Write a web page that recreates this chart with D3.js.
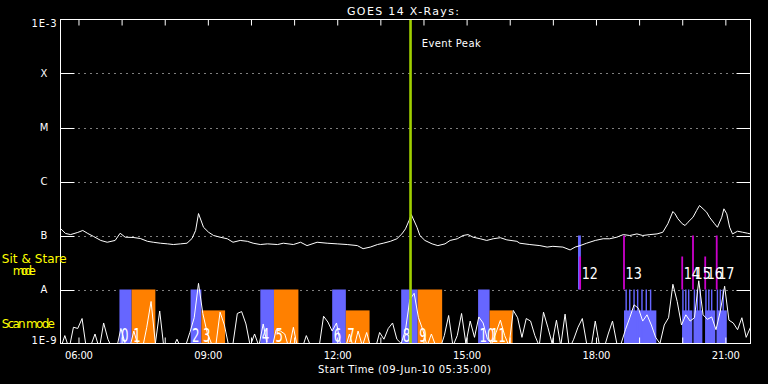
<!DOCTYPE html>
<html>
<head>
<meta charset="utf-8">
<script src="https://cdn.jsdelivr.net/npm/d3@7"></script>
<style>
body { margin: 0; background: #000; }
svg { display: block; }
text { font-family: "DejaVu Sans", sans-serif; fill: #fff; }
</style>
</head>
<body>
<script>
// y-axis levels (GOES classes)
const levelLabels = ['1E-3', 'X', 'M', 'C', 'B', 'A', '1E-9'];
const levelValues = [1e-3, 1e-4, 1e-5, 1e-6, 1e-7, 1e-8, 1e-9];

// GOES 1-8 A channel, flux in 1e-8 W/m2
const longTimes = ['05:35','05:42','05:49','05:59','06:06','06:13','06:21','06:31','06:40','06:51',
  '06:58','07:05','07:16','07:26','07:36','07:44','07:54','08:04','08:12','08:22',
  '08:31','08:38','08:43','08:47','08:54','09:01','09:08','09:17','09:27','09:35',
  '09:45','09:55','10:03','10:13','10:23','10:37','10:45','10:59','11:09','11:18',
  '11:32','11:46','12:00','12:14','12:28','12:36','12:46','12:56','13:04','13:14',
  '13:23','13:30','13:35','13:40','13:43','13:51','13:55','14:02','14:12','14:20',
  '14:30','14:37','14:47','14:55','15:02','15:09','15:19','15:28','15:37','15:47',
  '15:56','16:10','16:14','16:28','16:42','16:52','17:00','17:14','17:24','17:31',
  '17:38','17:47','17:59','18:10','18:19','18:29','18:38','18:47','18:57','19:05',
  '19:15','19:25','19:33','19:40','19:47','19:50','19:54','20:00','20:04','20:08',
  '20:15','20:20','20:24','20:29','20:34','20:38','20:45','20:49','20:55','20:58',
  '21:02','21:06','21:10','21:17','21:24','21:31','21:35'];
const longFlux = [13.5,10.9,10.4,11.4,12.4,10.9,9.6,8.1,7.5,8.1,
  11.0,9.3,9.2,8.8,7.8,7.5,7.2,7.0,6.8,7.0,
  7.2,8.8,12.4,25.5,14.2,11.5,10.0,9.3,8.7,7.5,
  8.1,7.8,7.2,6.8,7.0,6.8,7.2,6.8,7.5,6.5,
  7.5,7.2,7.0,6.8,6.5,5.7,6.1,6.8,7.2,7.8,
  8.7,10.7,13.3,19.0,24.5,14.2,10.0,8.1,7.0,6.5,
  7.0,8.1,8.7,10.0,10.4,9.3,8.7,8.1,8.7,9.1,
  8.3,7.8,7.2,6.8,6.5,6.1,6.3,6.1,5.4,6.1,
  6.5,7.2,8.1,8.7,8.7,9.3,10.4,10.0,10.7,10.0,
  10.4,10.7,11.5,16.5,27.8,25.2,20.4,16.5,15.3,17.6,
  21.8,29.0,35.9,31.2,27.0,21.8,16.5,14.2,21.8,31.2,
  25.2,14.2,10.7,12.0,11.5,11.0,10.7];

// GOES 0.5-4 A channel, one sample every 6 min from 05:35, flux in 1e-9 W/m2
const shortStart = '05:35';
const shortStep = 6;
const shortFlux = [0.8,1.4,0.8,2.0,1.9,2.9,0.8,0.9,1.5,0.8,
  2.4,1.2,0.8,0.8,1.9,1.0,0.8,1.7,0.9,0.8,
  2.0,6.0,1.0,4.0,0.8,0.8,0.8,1.2,0.8,0.9,
  1.6,3.0,13,3.6,1.6,1.0,0.9,3.8,2.2,0.9,
  1.0,3.6,3.9,2.3,0.9,1.5,0.9,2.3,0.9,0.8,
  1.8,1.7,1.5,0.8,2.0,0.8,0.8,1.4,0.9,0.8,
  0.9,3.2,2.5,1.7,2.4,0.9,0.8,1.5,0.8,1.7,
  0.9,1.6,0.8,0.8,1.6,1.2,1.9,2.4,1.2,1.0,
  1.8,6.5,8.5,3.0,1.8,0.9,1.5,0.9,0.8,1.4,
  3.3,0.9,1.4,3.6,1.0,2.6,1.3,3.1,2.4,1.2,
  1.0,1.6,2.7,1.4,0.9,4.1,3.0,1.3,2.9,2.6,
  1.4,0.9,3.8,2.0,1.0,2.7,0.9,3.5,0.8,1.2,
  2.0,2.9,1.0,0.8,2.6,0.9,0.8,1.5,2.6,1.0,
  1.0,1.8,3.0,5.2,4.5,2.6,3.4,2.2,1.3,1.0,
  2.2,3.0,12.5,6.0,2.2,3.4,2.6,3.0,14.5,3.4,
  2.8,3.1,1.8,4.0,11.5,2.7,2.4,1.8,3.0,1.3,
  2.0];

// scan mode observations 0-11 (top in 1e-9 W/m2)
const scanLabels = ['0','1','2','3','4','5','6','7','8','9','10','11'];
const scanStart = ['06:57','07:14','08:36','08:51','10:13','10:32','11:53','12:12','13:29','13:52','15:16','15:32'];
const scanEnd   = ['07:14','07:47','08:51','09:24','10:32','11:06','12:12','12:45','13:52','14:26','15:32','16:04'];
const scanKind  = ['b','o','b','o','b','o','b','o','b','o','b','o'];
const scanTop   = [10, 10, 10, 4.1, 10, 10, 10, 4.1, 10, 10, 10, 4.1];

// sit & stare observations 12-17 (top in 1e-8 W/m2)
const stareLabels = ['12','13','14','15','16','17'];
const stareTimes  = ['17:38','18:39','20:00','20:15','20:32','20:48'];
const stareTop    = [4.1, 10, 4.1, 10, 4.1, 10];

// raster blocks belonging to the sit & stare runs
const blockStart = ['17:35','18:39','20:00','20:16','20:32','20:48'];
const blockEnd   = ['17:39','19:24','20:14','20:28','20:46','21:02'];
const blockLow   = [10, 1, 1, 1, 1, 1];      // 1e-9 W/m2
const blockTop   = [100, 4.1, 4.1, 4.1, 4.1, 4.1];
const stripeStart = ['18:41','18:46','18:52','18:57','19:03','19:09','19:15',
  '20:00','20:04','20:08','20:16','20:20','20:24','20:32','20:36','20:40','20:48','20:52','20:56'];
const stripeEnd   = ['18:43','18:48','18:54','18:59','19:05','19:11','19:17',
  '20:02','20:06','20:10','20:18','20:22','20:26','20:34','20:38','20:42','20:50','20:54','20:58'];

const eventPeak = '13:42';

const W = 768, H = 384;
const m = { left: 60.5, right: 750.5, top: 19.5, bottom: 343.5 };
const blue = '#6666ff', orange = '#ff8000', magenta = '#cc00cc';

const parseT = s => d3.utcParse('%Y-%m-%d %H:%M')('2010-06-09 ' + s);

const x = d3.scaleUtc().domain([parseT('05:35'), parseT('21:35')]).range([m.left, m.right]);
const y = d3.scaleLog().domain([1e-9, 1e-3]).range([m.bottom, m.top]);

const svg = d3.select('body').append('svg')
  .attr('width', W).attr('height', H)
  .style('background', '#000');

svg.append('defs').append('clipPath')
  .attr('id', 'clip')
  .append('rect')
  .attr('x', m.left).attr('y', m.top)
  .attr('width', m.right - m.left).attr('height', m.bottom - m.top);

const plot = svg.append('g').attr('clip-path', 'url(#clip)');

// dotted grid lines at class levels
plot.selectAll('.grid').data(levelValues.slice(1, 6)).join('line')
  .attr('x1', m.left).attr('x2', m.right)
  .attr('y1', d => Math.round(y(d)) + 0.5).attr('y2', d => Math.round(y(d)) + 0.5)
  .attr('stroke', '#fff').attr('stroke-dasharray', '1,5');

// scan mode bars
plot.selectAll('.scan').data(scanStart).join('rect')
  .attr('x', d => x(parseT(d)))
  .attr('width', (d, i) => x(parseT(scanEnd[i])) - x(parseT(d)))
  .attr('y', (d, i) => y(scanTop[i] * 1e-9))
  .attr('height', (d, i) => y(1e-9) - y(scanTop[i] * 1e-9))
  .attr('fill', (d, i) => scanKind[i] === 'b' ? blue : orange);

// raster blocks and stripes
plot.selectAll('.block').data(blockStart).join('rect')
  .attr('x', d => x(parseT(d)))
  .attr('width', (d, i) => x(parseT(blockEnd[i])) - x(parseT(d)))
  .attr('y', (d, i) => y(blockTop[i] * 1e-9))
  .attr('height', (d, i) => y(blockLow[i] * 1e-9) - y(blockTop[i] * 1e-9))
  .attr('fill', blue);

plot.selectAll('.stripe').data(stripeStart).join('rect')
  .attr('x', d => x(parseT(d)))
  .attr('width', (d, i) => x(parseT(stripeEnd[i])) - x(parseT(d)))
  .attr('y', y(1e-8))
  .attr('height', y(1e-9) - y(1e-8))
  .attr('fill', blue);

// sit & stare markers
plot.selectAll('.stare').data(stareTimes).join('line')
  .attr('x1', d => x(parseT(d))).attr('x2', d => x(parseT(d)))
  .attr('y1', (d, i) => y(stareTop[i] * 1e-8)).attr('y2', y(1e-8))
  .attr('stroke', magenta).attr('stroke-width', 1.8);

svg.selectAll('.stareLabel').data(stareLabels).join('text')
  .attr('transform', (d, i) => `translate(${x(parseT(stareTimes[i])) + 1.5},278.5) scale(0.8,1)`)
  .attr('font-size', 16)
  .text(d => d);

svg.selectAll('.scanLabel').data(scanLabels).join('text')
  .attr('transform', (d, i) => `translate(${x(parseT(scanStart[i])) + 1.5},341.5) scale(0.62,1)`)
  .attr('font-size', 19)
  .text(d => d);

// GOES curves
const lineLong = d3.line()
  .x((d, i) => x(parseT(longTimes[i])))
  .y(d => y(d * 1e-8));
plot.append('path')
  .datum(longFlux)
  .attr('d', lineLong)
  .attr('fill', 'none').attr('stroke', '#fff').attr('stroke-width', 1);

const t0 = parseT(shortStart);
const lineShort = d3.line()
  .x((d, i) => x(d3.utcMinute.offset(t0, i * shortStep)))
  .y(d => y(d * 1e-9));
plot.append('path')
  .datum(shortFlux)
  .attr('d', lineShort)
  .attr('fill', 'none').attr('stroke', '#fff').attr('stroke-width', 1);

// event peak
const xe = x(parseT(eventPeak));
svg.append('line')
  .attr('x1', xe).attr('x2', xe).attr('y1', m.top).attr('y2', m.bottom)
  .attr('stroke', 'rgb(160,208,0)').attr('stroke-width', 2.6);
svg.append('text')
  .attr('x', 421.7).attr('y', 46.5)
  .attr('font-size', 10).attr('textLength', 59)
  .text('Event Peak');

// frame
svg.append('rect')
  .attr('x', m.left).attr('y', m.top)
  .attr('width', m.right - m.left).attr('height', m.bottom - m.top)
  .attr('fill', 'none').attr('stroke', '#fff');

// hourly ticks, pointing inward
svg.append('g')
  .attr('transform', `translate(0,${m.top})`)
  .call(d3.axisBottom(x).ticks(d3.utcHour.every(1)).tickSize(6).tickFormat(''))
  .call(g => g.select('.domain').remove())
  .selectAll('line').attr('stroke', '#fff');
svg.append('g')
  .attr('transform', `translate(0,${m.bottom})`)
  .call(d3.axisTop(x).ticks(d3.utcHour.every(1)).tickSize(6).tickFormat(''))
  .call(g => g.select('.domain').remove())
  .selectAll('line').attr('stroke', '#fff');

// x tick labels
const xAxis = svg.append('g')
  .attr('transform', `translate(0,${m.bottom})`)
  .call(d3.axisBottom(x).ticks(d3.utcHour.every(3)).tickSize(0).tickFormat(d3.utcFormat('%H:%M')));
xAxis.select('.domain').remove();
xAxis.selectAll('text')
  .attr('y', 15.2).attr('dy', null)
  .attr('fill', '#fff')
  .attr('font-family', '"DejaVu Sans", sans-serif')
  .attr('font-size', 10)
  .attr('textLength', 28);

// y level ticks (solid short segments on both sides) and labels
levelValues.slice(1, 6).forEach(v => {
  const yy = Math.round(y(v)) + 0.5;
  svg.append('line').attr('x1', m.left).attr('x2', m.left + 14).attr('y1', yy).attr('y2', yy).attr('stroke', '#fff');
  svg.append('line').attr('x1', m.right - 14).attr('x2', m.right).attr('y1', yy).attr('y2', yy).attr('stroke', '#fff');
});

svg.selectAll('.ylab').data(levelLabels).join('text')
  .attr('x', 44)
  .attr('y', (d, i) => y(levelValues[i]) + (i === 0 ? 7.3 : i === levelLabels.length - 1 ? 0 : 3.9))
  .attr('text-anchor', 'middle')
  .attr('font-size', 10)
  .attr('textLength', d => d.length > 1 ? 25 : null)
  .text(d => d);

// mode labels
svg.append('text').attr('x', 1.7).attr('y', 263.3).attr('font-size', 12)
  .attr('textLength', 65).style('fill', '#ffff00').text('Sit & Stare');
svg.append('text').attr('x', 12.7).attr('y', 275).attr('font-size', 12)
  .attr('textLength', 23.3).style('fill', '#ffff00').text('mode');
svg.append('text').attr('x', 1.7).attr('y', 328).attr('font-size', 12)
  .attr('textLength', 53.3).style('fill', '#ffff00').text('Scan mode');

// titles
svg.append('text')
  .attr('x', 347).attr('y', 14.5)
  .attr('font-size', 11).attr('textLength', 112)
  .text('GOES 14 X-Rays:');
svg.append('text')
  .attr('x', 318).attr('y', 372.5)
  .attr('font-size', 10).attr('textLength', 173)
  .text('Start Time (09-Jun-10 05:35:00)');
</script>
</body>
</html>
